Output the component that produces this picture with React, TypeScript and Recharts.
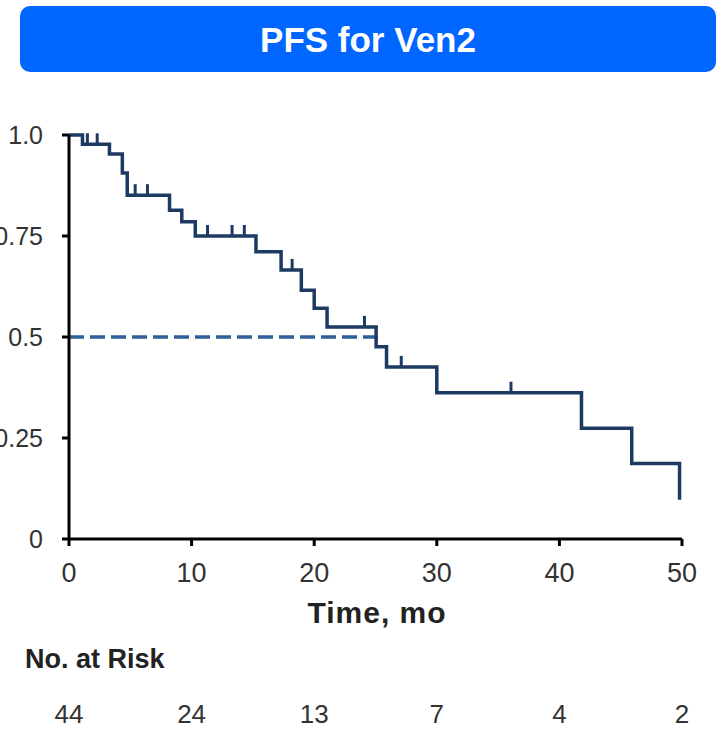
import React from 'react';
import { ComposedChart, Line, XAxis, YAxis, ReferenceLine } from 'recharts';

// Kaplan-Meier step points (time in months, survival probability)
const eventTimes = [0, 1.1, 3.3, 4.35, 4.75, 8.2, 9.2, 10.3, 15.25, 17.3, 18.95, 20.0, 21.05, 25.05, 25.9, 30.0, 41.8, 45.9, 49.8];
const survival = [1.0, 0.977, 0.953, 0.906, 0.851, 0.814, 0.785, 0.75, 0.711, 0.666, 0.616, 0.571, 0.525, 0.476, 0.426, 0.362, 0.274, 0.187, 0.097];
// Censoring marks (time in months)
const censorTimes = [1.5, 2.3, 5.4, 6.4, 11.3, 13.3, 14.3, 18.2, 24.1, 27.1, 36.05];

const xTicks = [0, 10, 20, 30, 40, 50];
const yTicks = [0, 0.25, 0.5, 0.75, 1];
const yTickLabels = ['0', '0.25', '0.5', '0.75', '1.0'];

const riskTimes = [0, 10, 20, 30, 40, 50];
const riskCounts = [44, 24, 13, 7, 4, 2];

const medianTime = 25.4;
const medianSurvival = 0.5;

const FONT = '"Liberation Sans", Arial, Helvetica, sans-serif';

type Row = { t: number; s: number; c: boolean };

const levelAt = (t: number) => {
  let lvl = survival[0];
  eventTimes.forEach((et, i) => {
    if (et <= t) lvl = survival[i];
  });
  return lvl;
};

const table: Row[] = [
  ...eventTimes.map((t, i) => ({ t, s: survival[i], c: false })),
  ...censorTimes.map((t) => ({ t, s: levelAt(t), c: true })),
].sort((a, b) => a.t - b.t);

const CensorDot = (props: any) => {
  const { cx, cy, payload, index } = props;
  if (!payload || !payload.c) return <g key={`d${index}`} />;
  return (
    <line
      key={`d${index}`}
      x1={cx}
      x2={cx}
      y1={cy}
      y2={cy - 11}
      stroke="#1d3a62"
      strokeWidth={3}
    />
  );
};

export default function App() {
  return (
    <div
      style={{
        position: 'absolute',
        left: 0,
        top: 0,
        width: 726,
        height: 729,
        background: '#fff',
        fontFamily: FONT,
        overflow: 'hidden',
      }}
    >
      <div
        style={{
          position: 'absolute',
          left: 20,
          top: 6,
          width: 696,
          height: 66,
          background: '#0066ff',
          borderRadius: 10,
          display: 'flex',
          alignItems: 'center',
          justifyContent: 'center',
          color: '#fff',
          fontWeight: 'bold',
          fontSize: 35,
          lineHeight: 1,
        }}
      >
        PFS for Ven2
      </div>

      <div style={{ position: 'absolute', left: 0, top: 0 }}>
        <ComposedChart
          width={726}
          height={729}
          data={table}
          margin={{ top: 135, right: 44, bottom: 0, left: 0 }}
        >
          <XAxis
            dataKey="t"
            type="number"
            domain={[0, 50]}
            ticks={xTicks}
            interval={0}
            height={166}
            tickSize={7}
            tickMargin={17}
            axisLine={{ stroke: '#000', strokeWidth: 3 }}
            tickLine={{ stroke: '#000', strokeWidth: 3 }}
            tick={{ fill: '#333', fontSize: 27, fontFamily: FONT }}
          />
          <XAxis
            xAxisId="risk"
            dataKey="t"
            type="number"
            domain={[0, 50]}
            ticks={riskTimes}
            interval={0}
            height={24}
            tickSize={0}
            tickMargin={0}
            axisLine={false}
            tickLine={false}
            tick={{ fill: '#333', fontSize: 26, fontFamily: FONT }}
            tickFormatter={(v: number) => String(riskCounts[riskTimes.indexOf(v)])}
          />
          <YAxis
            type="number"
            domain={[0, 1]}
            ticks={yTicks}
            interval={0}
            width={69}
            tickSize={7}
            tickMargin={19}
            axisLine={{ stroke: '#000', strokeWidth: 3 }}
            tickLine={{ stroke: '#000', strokeWidth: 3 }}
            tick={{ fill: '#333', fontSize: 25, fontFamily: FONT }}
            tickFormatter={(v: number) => yTickLabels[yTicks.indexOf(v)]}
          />
          <ReferenceLine
            segment={[
              { x: 0, y: medianSurvival },
              { x: medianTime, y: medianSurvival },
            ]}
            stroke="#2f5e98"
            strokeWidth={3.5}
            strokeDasharray="15 6"
          />
          <Line
            type="stepAfter"
            dataKey="s"
            stroke="#1d3a62"
            strokeWidth={3.5}
            dot={CensorDot}
            activeDot={false}
            isAnimationActive={false}
          />
        </ComposedChart>
      </div>

      <div
        style={{
          position: 'absolute',
          left: 277,
          width: 200,
          top: 598,
          textAlign: 'center',
          fontWeight: 'bold',
          fontSize: 30,
          lineHeight: 1,
          letterSpacing: 1,
          color: '#222',
        }}
      >
        Time, mo
      </div>
      <div
        style={{
          position: 'absolute',
          left: 25,
          top: 646,
          fontWeight: 'bold',
          fontSize: 27,
          lineHeight: 1,
          color: '#222',
          whiteSpace: 'nowrap',
        }}
      >
        No. at Risk
      </div>
    </div>
  );
}
